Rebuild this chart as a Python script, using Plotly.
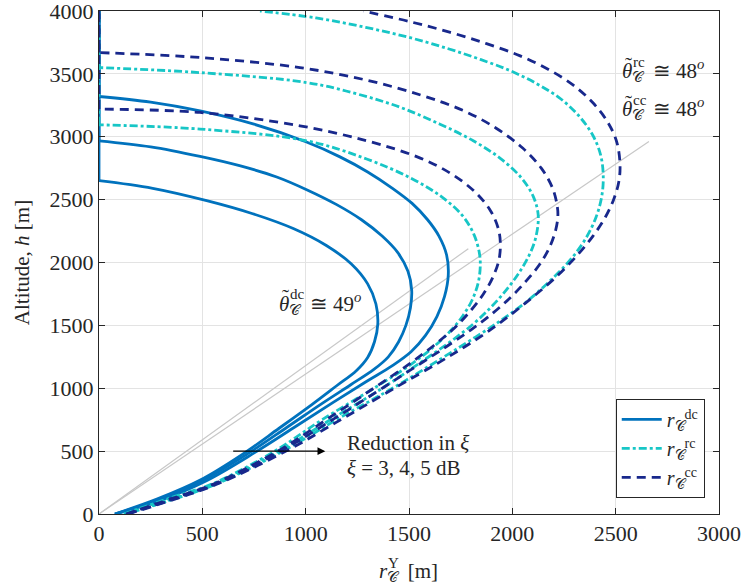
import plotly.graph_objects as go

# ---- data (x = r [m], y = altitude h [m]) ----
dc1_x = [77, 280, 490, 690, 870, 1030, 1150, 1245, 1300, 1333, 1349, 1340, 1300, 1220, 1100, 940, 740, 521, 260, 0]
dc1_y = [0, 118, 270, 470, 680, 870, 1020, 1140, 1245, 1370, 1510, 1670, 1830, 1990, 2135, 2270, 2390, 2492, 2590, 2651]
dc2_x = [77, 290, 505, 720, 910, 1080, 1220, 1330, 1400, 1450, 1485, 1507, 1513, 1495, 1445, 1370, 1270, 1150, 1010, 860, 680, 489, 250, 0]
dc2_y = [0, 114, 270, 480, 690, 880, 1030, 1150, 1250, 1370, 1500, 1640, 1780, 1930, 2080, 2210, 2340, 2460, 2575, 2680, 2770, 2844, 2920, 2968]
dc3_x = [77, 300, 520, 755, 955, 1135, 1290, 1420, 1510, 1580, 1635, 1672, 1690, 1682, 1645, 1590, 1515, 1420, 1300, 1166, 1001, 750, 489, 250, 0]
dc3_y = [0, 110, 265, 490, 700, 890, 1050, 1180, 1290, 1420, 1570, 1730, 1900, 2060, 2210, 2340, 2470, 2590, 2720, 2840, 2960, 3100, 3205, 3275, 3320]

rc1_x = [120, 340, 553, 850, 1080, 1340, 1510, 1620, 1700, 1760, 1805, 1835, 1845, 1840, 1815, 1760, 1660, 1510, 1295, 1005, 489, 0]
rc1_y = [0, 125, 243, 500, 750, 1010, 1190, 1330, 1455, 1575, 1700, 1840, 1980, 2080, 2220, 2370, 2520, 2670, 2823, 2968, 3061, 3095]
rc2_x = [125, 355, 560, 870, 1130, 1380, 1560, 1700, 1810, 1900, 1975, 2037, 2085, 2115, 2125, 2100, 2040, 1940, 1811, 1650, 1456, 1250, 1005, 489, 0]
rc2_y = [0, 120, 240, 500, 760, 1010, 1210, 1370, 1510, 1650, 1790, 1930, 2070, 2210, 2380, 2530, 2680, 2830, 2968, 3100, 3235, 3340, 3431, 3510, 3550]
rc3_x = [130, 365, 570, 890, 1160, 1420, 1660, 1820, 1950, 2070, 2180, 2280, 2355, 2405, 2432, 2440, 2428, 2390, 2325, 2235, 2120, 1990, 1845, 1690, 1500, 1290, 1050, 779]
rc3_y = [0, 120, 240, 500, 760, 1000, 1240, 1405, 1545, 1690, 1850, 2020, 2190, 2360, 2520, 2680, 2850, 3010, 3160, 3300, 3420, 3525, 3615, 3700, 3790, 3870, 3945, 4000]

cc1_x = [130, 350, 560, 865, 1100, 1320, 1490, 1620, 1720, 1800, 1860, 1905, 1935, 1942, 1932, 1895, 1820, 1700, 1540, 1295, 972, 489, 0]
cc1_y = [0, 122, 243, 500, 750, 990, 1180, 1340, 1480, 1620, 1750, 1880, 2020, 2150, 2270, 2410, 2560, 2710, 2840, 2968, 3087, 3193, 3220]
cc2_x = [134, 360, 565, 880, 1140, 1380, 1540, 1680, 1800, 1900, 1990, 2065, 2130, 2180, 2210, 2220, 2218, 2195, 2140, 2050, 1920, 1760, 1560, 1295, 972, 489, 0]
cc2_y = [0, 120, 240, 500, 760, 1010, 1180, 1330, 1465, 1590, 1720, 1850, 1980, 2120, 2260, 2360, 2440, 2590, 2750, 2910, 3070, 3210, 3330, 3450, 3550, 3630, 3669]
cc3_x = [140, 370, 575, 905, 1180, 1440, 1640, 1770, 1890, 2004, 2110, 2215, 2310, 2390, 2450, 2490, 2515, 2521, 2505, 2460, 2390, 2295, 2175, 2035, 1875, 1700, 1505, 1279]
cc3_y = [0, 120, 240, 500, 760, 1010, 1200, 1330, 1460, 1600, 1740, 1890, 2050, 2210, 2360, 2500, 2640, 2780, 2960, 3120, 3270, 3410, 3535, 3645, 3740, 3830, 3915, 4000]

# grey reference lines from the origin (optimal elevation angles)
lineA_x = [0, 1787]
lineA_y = [0, 2110]
lineB_x = [0, 2661]
lineB_y = [0, 2962]

# ---- styles ----
C_DC = "#0072BD"
C_RC = "#17C6C6"
C_CC = "#18288C"
LW = 2.8
DASH_RC = "8px,3px,3px,3px"
DASH_CC = "9px,6px"
SERIF = "Liberation Serif"
TXT = "#262626"

fig = go.Figure()

for gx, gy in [(lineA_x, lineA_y), (lineB_x, lineB_y)]:
    fig.add_trace(go.Scatter(x=gx, y=gy, mode="lines", line=dict(color="#C8C8C8", width=1.2),
                             showlegend=False, hoverinfo="skip"))

groups = [
    ("<i>r</i><sub>𝒞</sub><sup>dc</sup>", C_DC, "solid", [(dc1_x, dc1_y), (dc2_x, dc2_y), (dc3_x, dc3_y)]),
    ("<i>r</i><sub>𝒞</sub><sup>rc</sup>", C_RC, DASH_RC, [(rc1_x, rc1_y), (rc2_x, rc2_y), (rc3_x, rc3_y)]),
    ("<i>r</i><sub>𝒞</sub><sup>cc</sup>", C_CC, DASH_CC, [(cc1_x, cc1_y), (cc2_x, cc2_y), (cc3_x, cc3_y)]),
]

for name, col, dash, curves in groups:
    for i, (cx, cy) in enumerate(curves):
        fig.add_trace(go.Scatter(x=cx, y=cy, mode="lines", name=name, legendgroup=name,
                                 showlegend=(i == 0),
                                 line=dict(color=col, width=LW, dash=dash, shape="spline", smoothing=1.0)))
        if cx[-1] == 0:
            # the coverage radius stays at zero above the maximum altitude
            fig.add_trace(go.Scatter(x=[0, 0], y=[cy[-1], 4000], mode="lines", legendgroup=name,
                                     showlegend=False, line=dict(color=col, width=LW, dash=dash)))

afont = dict(family=SERIF, size=21, color=TXT)
sfont = dict(family=SERIF, size=15, color=TXT)


def theta_label(x, y, sup, deg):
    # theta with tilde, calligraphic C subscript and stacked superscript
    fig.add_annotation(x=x, y=y, xanchor="left", yanchor="middle", showarrow=False, font=afont,
                       text="<i>θ</i><sub>𝒞</sub>\u2009 ≅ " + deg + "<sup><i>o</i></sup>")
    fig.add_annotation(x=x, y=y, xanchor="left", yanchor="middle", showarrow=False, font=afont,
                       text="˜", xshift=3, yshift=6)
    fig.add_annotation(x=x, y=y, xanchor="left", yanchor="middle", showarrow=False, font=sfont,
                       text=sup, xshift=11, yshift=9)


theta_label(861, 1675, "dc", "49")
theta_label(2521, 3524, "rc", "48")
theta_label(2521, 3222, "cc", "48")

fig.add_annotation(x=1095, y=500, ax=642, ay=500, axref="x", ayref="y", xref="x", yref="y",
                   text="", showarrow=True, arrowhead=2, arrowsize=1.2, arrowwidth=1.3, arrowcolor="black")
fig.add_annotation(x=1190, y=563, text="Reduction in <i>ξ</i>", xanchor="left", showarrow=False, font=afont)
fig.add_annotation(x=1190, y=365, text="<i>ξ</i> = 3, 4, 5 dB", xanchor="left", showarrow=False, font=afont)

# x-axis title with stacked sub/superscript
fig.add_annotation(xref="paper", yref="paper", x=0.448, y=-0.116, xanchor="left", yanchor="middle",
                   showarrow=False, font=afont, text="<i>r</i><sub>𝒞</sub>\u2009 [m]")
fig.add_annotation(xref="paper", yref="paper", x=0.448, y=-0.116, xanchor="left", yanchor="middle",
                   showarrow=False, font=sfont, text="Y", xshift=9, yshift=9)

axis_common = dict(showline=True, linecolor=TXT, linewidth=1, mirror="ticks",
                   ticks="inside", ticklen=6, tickcolor=TXT,
                   showgrid=True, gridcolor="#E3E3E3", gridwidth=1, zeroline=False,
                   ticklabeloverflow="allow", automargin=False,
                   tickfont=dict(family=SERIF, size=22, color=TXT))

fig.update_layout(
    width=745, height=586,
    margin=dict(l=99, r=26, t=11, b=72),
    paper_bgcolor="white", plot_bgcolor="white",
    font=dict(family=SERIF, size=21, color=TXT),
    xaxis=dict(range=[0, 3000], tickvals=[0, 500, 1000, 1500, 2000, 2500, 3000], **axis_common),
    yaxis=dict(range=[0, 4000], tickvals=list(range(0, 4001, 500)),
               title=dict(text="Altitude, <i>h</i> [m]", standoff=14,
                          font=dict(family=SERIF, size=21, color=TXT)), **axis_common),
    legend=dict(x=0.977, y=0.032, xanchor="right", yanchor="bottom", bgcolor="white",
                bordercolor=TXT, borderwidth=1, font=dict(family=SERIF, size=20, color=TXT),
                tracegroupgap=0, itemwidth=40),
    showlegend=True,
)

fig.write_html("out.html")
